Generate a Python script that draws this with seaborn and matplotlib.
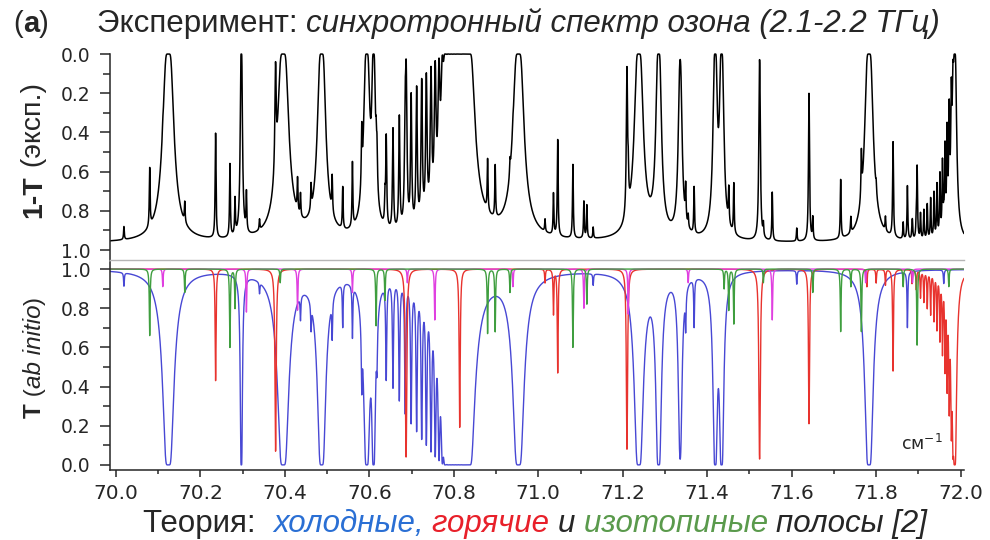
import numpy as np
import pandas as pd
import seaborn as sns
import matplotlib.pyplot as plt
from matplotlib.ticker import MultipleLocator, FormatStrFormatter

# ---- line lists: centre (cm-1), transmission at centre, half width (cm-1)
cold_pos = [70.019, 70.124, 70.297, 70.340, 70.396, 70.437, 70.462, 70.487, 70.512, 70.537,
            70.560, 70.582, 70.594, 70.610,
            70.618, 70.640, 70.656, 70.671, 70.685, 70.699, 70.712, 70.724, 70.735, 70.746,
            70.756, 70.765, 70.773, 70.780, 70.787, 70.794, 70.801, 70.808, 70.815, 70.822,
            70.829, 70.836,
            70.953, 71.130, 71.238, 71.285, 71.336, 71.349, 71.369, 71.419, 71.434, 71.612,
            71.783, 71.874, 71.960]
cold_tmin = [0.93, 0.0, 0.0, 0.94, 0.0, 0.86, 0.84, 0.0, 0.77, 0.76,
             0.71, 0.55, 0.0, 0.0,
             0.69, 0.47, 0.42, 0.35, 0.28, 0.23, 0.19, 0.15, 0.12, 0.085,
             0.06, 0.04, 0.02, 0.0, 0.0, 0.0, 0.0, 0.0, 0.0, 0.0,
             0.0, 0.0,
             0.0, 0.94, 0.0, 0.0, 0.03, 0.79, 0.74, 0.0, 0.0, 0.93,
             0.0, 0.71, 0.93]
cold_hw = [0.001, 0.0036, 0.0007, 0.001, 0.0036, 0.001, 0.001, 0.0027, 0.001, 0.001,
           0.001, 0.001, 0.002, 0.0012,
           0.0012, 0.0012, 0.0012, 0.0012, 0.0012, 0.0012, 0.0012, 0.0012, 0.0012, 0.0012,
           0.0012, 0.0013, 0.0014, 0.0016, 0.0018, 0.0018, 0.0018, 0.0018, 0.0018, 0.0018,
           0.0018, 0.0034,
           0.0036, 0.001, 0.0029, 0.0018, 0.0025, 0.001, 0.001, 0.0014, 0.0014, 0.001,
           0.0027, 0.001, 0.001]

hot_pos = [70.236, 70.378, 70.687, 70.814, 71.016, 71.036, 71.046, 71.210, 71.524, 71.641,
           71.778, 71.800, 71.822, 71.840,
           71.885, 71.895, 71.905, 71.913, 71.921, 71.929, 71.937, 71.944, 71.951, 71.957,
           71.963, 71.968, 71.973, 71.978, 71.982, 71.986]
hot_tmin = [0.43, 0.07, 0.04, 0.19, 0.93, 0.77, 0.47, 0.08, 0.03, 0.21,
            0.91, 0.93, 0.92, 0.48,
            0.93, 0.90, 0.86, 0.84, 0.81, 0.78, 0.75, 0.71, 0.66, 0.60,
            0.52, 0.43, 0.32, 0.20, 0.10, 0.0]
hot_hw = [0.001] * 29 + [0.0012]

iso_pos = [70.080, 70.163, 70.270, 70.282, 70.389, 70.616, 70.637, 70.880, 70.898, 70.933,
           71.082, 71.115, 71.440, 71.451, 71.463, 71.533, 71.650, 71.716, 71.740, 71.765,
           71.864, 71.897, 71.972]
iso_tmin = [0.66, 0.88, 0.60, 0.80, 0.93, 0.71, 0.84, 0.67, 0.68, 0.88,
            0.60, 0.82, 0.90, 0.79, 0.72, 0.93, 0.88, 0.68, 0.91, 0.68,
            0.91, 0.61, 0.91]
iso_hw = [0.001] * 23

other_pos = [70.111, 70.309, 70.430, 70.560, 70.690, 70.755, 70.940, 71.108, 71.213, 71.355,
             71.554, 71.775, 71.886]
other_tmin = [0.91, 0.78, 0.79, 0.88, 0.93, 0.74, 0.91, 0.80, 0.77, 0.93,
              0.74, 0.93, 0.93]
other_hw = [0.001] * 13

exp_baseline = 0.965

x = np.linspace(69.986, 72.008, 14000)


def transmission(pos, tmin, hw):
    pos, tmin, hw = map(np.asarray, (pos, tmin, hw))
    tau = -np.log(np.clip(tmin, 1e-6, None))
    prof = tau[:, None] / (1 + ((x[None, :] - pos[:, None]) / hw[:, None]) ** 2)
    return np.exp(-prof.sum(axis=0))


bands = {
    "cold": transmission(cold_pos, cold_tmin, cold_hw),
    "hot": transmission(hot_pos, hot_tmin, hot_hw),
    "other": transmission(other_pos, other_tmin, other_hw),
    "iso": transmission(iso_pos, iso_tmin, iso_hw),
}
df_theory = pd.concat(
    [pd.DataFrame({"x": x, "T": t, "band": name}) for name, t in bands.items()],
    ignore_index=True)

exp_T = exp_baseline * np.prod(list(bands.values()), axis=0)
df_exp = pd.DataFrame({"x": x, "T": exp_T})

palette = {"cold": "#4848d4", "hot": "#e8332e", "other": "#e040e0", "iso": "#3f9e3f"}

### PLOT
sns.set_style("ticks")
plt.rcParams["font.family"] = ["DejaVu Sans"]
plt.rcParams["axes.linewidth"] = 1.1

fig = plt.figure(figsize=(9.9, 5.4), dpi=100)
W, H = 990, 540
ax1 = fig.add_axes([110 / W, 1 - 260 / H, 854 / W, 214 / H])
ax2 = fig.add_axes([110 / W, 1 - 470 / H, 854 / W, 208 / H])

sns.lineplot(data=df_exp, x="x", y="T", color="black", lw=1.1, ax=ax1, estimator=None)
sns.lineplot(data=df_theory, x="x", y="T", hue="band", hue_order=["cold", "hot", "other", "iso"],
             palette=palette, lw=1.0, ax=ax2, estimator=None, legend=False)

for ax in (ax1, ax2):
    ax.set_xlim(69.986, 72.008)
    ax.set_xlabel("")
    ax.set_ylabel("")
    ax.spines["top"].set_visible(False)
    ax.spines["right"].set_visible(False)
    ax.yaxis.set_major_locator(MultipleLocator(0.2))
    ax.yaxis.set_minor_locator(MultipleLocator(0.1))
    ax.yaxis.set_major_formatter(FormatStrFormatter("%.1f"))
    ax.tick_params(axis="y", which="major", length=7, width=1.1, pad=7, labelsize=13.5)
    ax.tick_params(axis="y", which="minor", length=5, width=1.1)

ax1.set_ylim(1.051, -0.041)
ax1.spines["left"].set_bounds(1.051, 0.0)
ax1.spines["bottom"].set_color("#b5b5b5")
ax1.spines["bottom"].set_linewidth(1.0)
ax1.tick_params(axis="x", which="both", bottom=False, labelbottom=False)

ax2.set_ylim(-0.026, 1.036)
ax2.xaxis.set_major_locator(MultipleLocator(0.2))
ax2.xaxis.set_minor_locator(MultipleLocator(0.1))
ax2.xaxis.set_major_formatter(FormatStrFormatter("%.1f"))
ax2.tick_params(axis="x", which="major", length=5, width=1.1, pad=5, labelsize=14.5)
ax2.tick_params(axis="x", which="minor", length=3, width=1.1)
ax2.text(71.957, 0.075, "см$^{-1}$", ha="right", va="baseline", fontsize=12.5)

renderer = fig.canvas.get_renderer()


def chain(pieces, x0, y0, rotation=0, **kw):
    # place text pieces one after another, sharing one baseline
    xx, yy = x0, y0
    for s, props in pieces:
        t = fig.text(xx, yy, s, rotation=rotation, rotation_mode="anchor",
                     ha="left", va="baseline", **kw, **props)
        bb = t.get_window_extent(renderer)
        if rotation == 0:
            xx = bb.x1 / W
        else:
            yy = bb.y1 / H


sans = "Liberation Sans"
chain([("(", {}), ("a", {"weight": "bold"}), (")", {})], 13 / W, 1 - 32 / H,
      fontsize=21, family=sans)
chain([("Эксперимент: ", {}),
       ("синхротронный спектр озона (2.1-2.2 ТГц)", {"style": "italic"})],
      97 / W, 1 - 32 / H, fontsize=22.5, family=sans)
chain([("Теория:  ", {}),
       ("холодные, ", {"style": "italic", "color": "#2a6fd4"}),
       ("горячие ", {"style": "italic", "color": "#e8202a"}),
       ("и ", {"style": "italic"}),
       ("изотопиные ", {"style": "italic", "color": "#5a9a4c"}),
       ("полосы [2]", {"style": "italic"})],
      143 / W, 1 - 532 / H, fontsize=22.5, family=sans)
chain([("1-T", {"weight": "bold"}), (" (эксп.)", {})], 41 / W, 1 - 218 / H,
      rotation=90, fontsize=20.5, family=sans)
chain([("T", {"weight": "bold"}), (" (", {}), ("ab initio", {"style": "italic"}), (")", {})],
      41 / W, 1 - 418 / H, rotation=90, fontsize=17.5, family=sans)

fig.savefig("out.png", dpi=100, facecolor="white")
